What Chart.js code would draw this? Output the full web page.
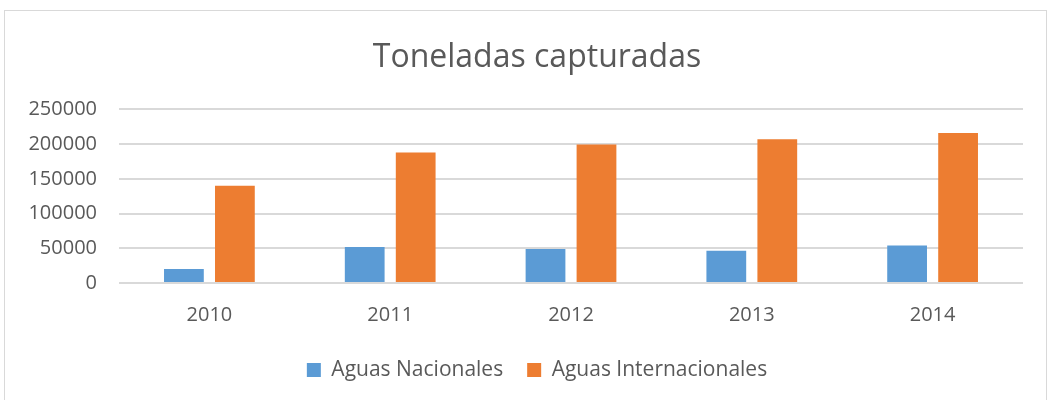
<!DOCTYPE html>
<html>
<head>
<meta charset="utf-8">
<script src="https://cdn.jsdelivr.net/npm/chart.js@4"></script>
<style>
  body { margin: 0; background: #fff; overflow: hidden; }
  #frame { position: absolute; left: 4px; top: 10px; width: 1041px; height: 400px; border: 1px solid #d9d9d9; }
  #wrap { position: absolute; left: 0; top: 0; width: 1054px; height: 400px; }
</style>
</head>
<body>
<div id="frame"></div>
<div id="wrap"><canvas id="myChart"></canvas></div>
<script>
// chart data
let years = ['2010', '2011', '2012', '2013', '2014'];
let nacionales = [20000, 52000, 49000, 46500, 54000];
let internacionales = [140000, 188000, 199500, 207000, 216000];
let yTicks = [0, 50000, 100000, 150000, 200000, 250000];

let textColor = '#595959';
Chart.defaults.font.family = '"Open Sans", "Liberation Sans", sans-serif';
Chart.defaults.color = textColor;

let options = {
  type: 'bar',
  data: {
    labels: years,
    datasets: [
      {
        label: 'Aguas Nacionales',
        data: nacionales,
        backgroundColor: '#5B9BD5'
      },
      {
        label: 'Aguas Internacionales',
        data: internacionales,
        backgroundColor: '#ED7D31'
      }]
  },
  options: {
    responsive: true,
    maintainAspectRatio: false,
    animation: false,
    categoryPercentage: 0.564,
    barPercentage: 0.78,
    // padding + empty right axis keep title and legend centred like the original
    layout: { padding: { left: 20, right: 0, top: 0, bottom: 9.5 } },
    plugins: {
      title: {
        display: true,
        text: 'Toneladas capturadas',
        color: textColor,
        font: { size: 32, weight: 'normal' },
        padding: { top: 39, bottom: 32 }
      },
      legend: {
        position: 'bottom',
        labels: {
          boxWidth: 14,
          boxHeight: 14,
          padding: 24,
          color: textColor,
          font: { size: 21 }
        }
      },
      tooltip: { enabled: false }
    },
    scales: {
      x: {
        grid: { display: false, drawTicks: false },
        border: { display: false },
        ticks: { padding: 20, font: { size: 20 } },
        afterFit: function(scale) { scale.height = 52.5; }
      },
      y: {
        min: 0,
        max: 250000,
        afterBuildTicks: function(scale) {
          scale.ticks = yTicks.map(v => ({ value: v }));
        },
        grid: { color: '#d9d9d9', lineWidth: 2, drawTicks: false },
        border: { display: false },
        ticks: {
          padding: 22,
          font: { size: 20 },
          callback: function(value) { return String(value); }
        },
        afterFit: function(scale) { scale.width = 99; }
      },
      spacer: {
        type: 'linear',
        position: 'right',
        grid: { display: false, drawTicks: false },
        border: { display: false },
        ticks: { display: false },
        afterFit: function(scale) { scale.width = 31; }
      }
    }
  }
};

const ctx = document.getElementById('myChart').getContext('2d');
const myChart = new Chart(ctx, options);
</script>
</body>
</html>
